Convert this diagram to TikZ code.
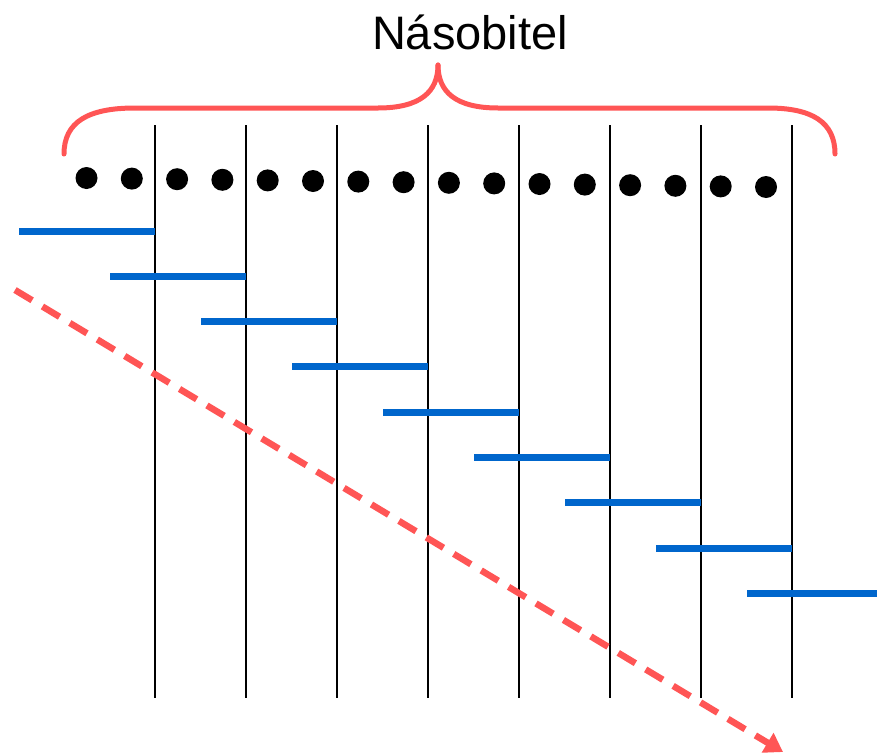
\documentclass[tikz,border=0pt]{standalone}
\usepackage{fontspec}
\setmainfont{Liberation Sans}
\usetikzlibrary{arrows.meta,calc}
\definecolor{braceRed}{HTML}{FF5555}
\definecolor{barBlue}{HTML}{0066CC}

\begin{document}
\begin{tikzpicture}[x=1pt, y=-1pt,
    divider/.style={black, line width=2pt},
    bar/.style={barBlue, line width=7pt},
    bead/.style={circle, fill=black, inner sep=0pt, minimum size=22pt},
    brace/.style={braceRed, line width=5pt, line cap=round},
    shift arrow/.style={braceRed, line width=6.5pt, dash pattern=on 20pt off 12pt,
        -{Triangle[length=18pt, width=22pt]}}
]
    \useasboundingbox (0,0) rectangle (877,755);

    % Nadpis
    \node[font=\fontsize{47}{56}\selectfont] (title) at (470,32) {Násobitel};

    % Slozena zavorka
    \coordinate (braceL) at (64,154);
    \coordinate (braceTip) at (438,65);
    \coordinate (braceR) at (835,154);
    \draw[brace] (braceL) .. controls (64,122) and (88,108) .. (135,108) -- (378,108)
        .. controls (420,108) and (438,92) .. (braceTip);
    \draw[brace] (braceTip) .. controls (438,92) and (456,108) .. (498,108) -- (768,108)
        .. controls (812,108) and (835,122) .. (braceR);

    % Svisle deleni
    \foreach \i in {1,...,8} {
        \coordinate (top\i) at (64+91*\i,125);
        \coordinate (bot\i) at (64+91*\i,698);
        \draw[divider] (top\i) -- (bot\i);
    }

    % Body
    \foreach \i in {0,...,15}
        \node[bead] (bead\i) at (86.5+45.3*\i,178+0.6*\i) {};

    % Posunute useky
    \foreach \i in {1,...,9} {
        \coordinate (barL\i) at (64+91*\i-136,231+45.3*\i-45.3);
        \coordinate (barR\i) at (64+91*\i,231+45.3*\i-45.3);
        \draw[bar] (barL\i) -- (barR\i);
    }

    % Sipka posunu
    \coordinate (shiftStart) at (15,290);
    \coordinate (shiftEnd) at (783,752);
    \draw[shift arrow] (shiftStart) -- (shiftEnd);
\end{tikzpicture}
\end{document}
